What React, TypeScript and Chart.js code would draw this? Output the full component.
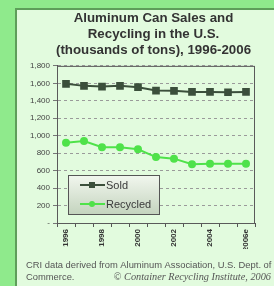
import React, { useEffect, useRef } from "react";
import { Chart, registerables } from "chart.js";

Chart.register(...registerables);

const years = ["1996", "1997", "1998", "1999", "2000", "2001", "2002", "2003", "2004", "2005", "2006e"];
const shownYears = ["1996", "1998", "2000", "2002", "2004", "2006e"];
const sold = [1594, 1571, 1563, 1571, 1556, 1517, 1514, 1502, 1502, 1498, 1502];
const recycled = [920, 940, 868, 868, 845, 755, 737, 673, 680, 680, 680];
const titleLines = ["Aluminum Can Sales and", "Recycling in the U.S.", "(thousands of tons), 1996-2006"];
const footerLine1 = "CRI data derived from Aluminum Association, U.S. Dept. of";
const footerLine2 = "Commerce.";
const footerCredit = "\u00A9 Container Recycling Institute, 2006";
const legendLabels = ["Sold", "Recycled"];

const SOLD_COLOR = "#3b4f3b";
const REC_COLOR = "#4fe24a";

const extrasPlugin = {
  id: "extras",
  afterDraw(chart: any) {
    const ctx = chart.ctx as CanvasRenderingContext2D;
    const a = chart.chartArea;
    ctx.save();
    ctx.setLineDash([]);
    // plot border
    ctx.strokeStyle = "#5a5a5a";
    ctx.lineWidth = 1;
    ctx.strokeRect(a.left + 0.5, a.top + 0.5, a.right - a.left - 1, a.bottom - a.top);
    // legend
    const lx = a.left + 11, ly = a.bottom - 48, lw = 92, lh = 40;
    const g = ctx.createLinearGradient(0, ly, 0, ly + lh);
    g.addColorStop(0, "#f2f7ef");
    g.addColorStop(1, "#c3d3bd");
    ctx.fillStyle = g;
    ctx.fillRect(lx, ly, lw, lh);
    ctx.strokeStyle = "#555";
    ctx.strokeRect(lx + 0.5, ly + 0.5, lw - 1, lh - 1);
    const rows = [
      { y: ly + 10, color: SOLD_COLOR, style: "rect" },
      { y: ly + 29, color: REC_COLOR, style: "circle" },
    ];
    rows.forEach((r, i) => {
      ctx.strokeStyle = r.color;
      ctx.lineWidth = 2;
      ctx.beginPath();
      ctx.moveTo(lx + 12, r.y);
      ctx.lineTo(lx + 37, r.y);
      ctx.stroke();
      ctx.fillStyle = r.color;
      if (r.style === "rect") {
        ctx.fillRect(lx + 21, r.y - 3, 6, 6);
      } else {
        ctx.beginPath();
        ctx.arc(lx + 24, r.y, 3, 0, Math.PI * 2);
        ctx.fill();
      }
      ctx.fillStyle = "#3a3a3a";
      ctx.font = "11px 'Liberation Sans', Arial, sans-serif";
      ctx.textAlign = "left";
      ctx.textBaseline = "middle";
      ctx.fillText(legendLabels[i], lx + 38, r.y + 1);
    });
    // footer
    const H = chart.height;
    ctx.fillStyle = "#555";
    ctx.font = "9.4px 'Liberation Sans', Arial, sans-serif";
    ctx.textAlign = "left";
    ctx.textBaseline = "middle";
    ctx.fillText(footerLine1, 10, H - 21);
    ctx.fillText(footerLine2, 10, H - 9);
    ctx.font = "italic 10.3px 'Liberation Serif', serif";
    ctx.textAlign = "right";
    ctx.fillText(footerCredit, 255, H - 9);
    ctx.restore();
  },
};

export default function App() {
  const ref = useRef<HTMLCanvasElement>(null);
  useEffect(() => {
    if (!ref.current) return;
    const chart = new Chart(ref.current, {
      type: "line",
      data: {
        labels: years,
        datasets: [
          {
            label: legendLabels[0],
            data: sold,
            borderColor: SOLD_COLOR,
            backgroundColor: SOLD_COLOR,
            borderWidth: 2,
            pointStyle: "rect",
            pointRadius: 4,
            tension: 0,
          },
          {
            label: legendLabels[1],
            data: recycled,
            borderColor: REC_COLOR,
            backgroundColor: REC_COLOR,
            borderWidth: 2,
            pointStyle: "circle",
            pointRadius: 3,
            tension: 0,
          },
        ],
      },
      options: {
        animation: false,
        responsive: false,
        devicePixelRatio: 1,
        layout: { padding: { left: 0, right: 0, top: 0, bottom: 37 } },
        plugins: {
          legend: { display: false },
          tooltip: { enabled: false },
          title: {
            display: true,
            text: titleLines,
            color: "#333",
            font: { family: "'Liberation Sans', Arial, sans-serif", size: 13.3, weight: "bold", lineHeight: 1.2 },
            padding: { top: 10, bottom: 8 },
          },
        },
        scales: {
          x: {
            offset: true,
            grid: { display: true, drawOnChartArea: false, drawTicks: true, tickLength: 4, offset: true, color: "#555" },
            border: { color: "#555" },
            ticks: {
              autoSkip: false,
              minRotation: 90,
              maxRotation: 90,
              padding: 2,
              color: "#333",
              font: { family: "'Liberation Sans', Arial, sans-serif", size: 8, weight: "bold" },
              callback: (v: any, i: number) => (shownYears.includes(years[i]) ? years[i] : ""),
            },
            afterFit: (s: any) => { s.height = 26; },
          },
          y: {
            min: 0,
            max: 1800,
            grid: { color: "#9a9a9a", tickLength: 4, tickColor: "#777", drawTicks: true },
            border: { color: "#555", dash: [3, 3] },
            ticks: {
              stepSize: 200,
              padding: 3,
              color: "#444",
              font: { family: "'Liberation Sans', Arial, sans-serif", size: 8 },
              callback: (v: any) => (v === 0 ? "-" : Number(v).toLocaleString("en-US")),
            },
            afterFit: (s: any) => { s.width = 41; },
          },
          spacer: {
            type: "linear",
            position: "right",
            display: true,
            grid: { display: false, drawOnChartArea: false },
            border: { display: false },
            ticks: { display: false },
            afterFit: (s: any) => { s.width = 36; },
          },
        },
      },
      plugins: [extrasPlugin],
    });
    return () => chart.destroy();
  }, []);

  return (
    <div style={{ position: "fixed", inset: 0, background: "#8fea8c", overflow: "hidden" }}>
      <div
        style={{
          position: "absolute",
          left: 15,
          top: 8,
          width: 320,
          height: 320,
          background: "#e2fbde",
          border: "2px solid #5e9e5a",
        }}
      />
      <canvas
        ref={ref}
        width={275}
        height={286}
        style={{ position: "absolute", left: 16, top: 0, width: 275, height: 286 }}
      />
    </div>
  );
}
